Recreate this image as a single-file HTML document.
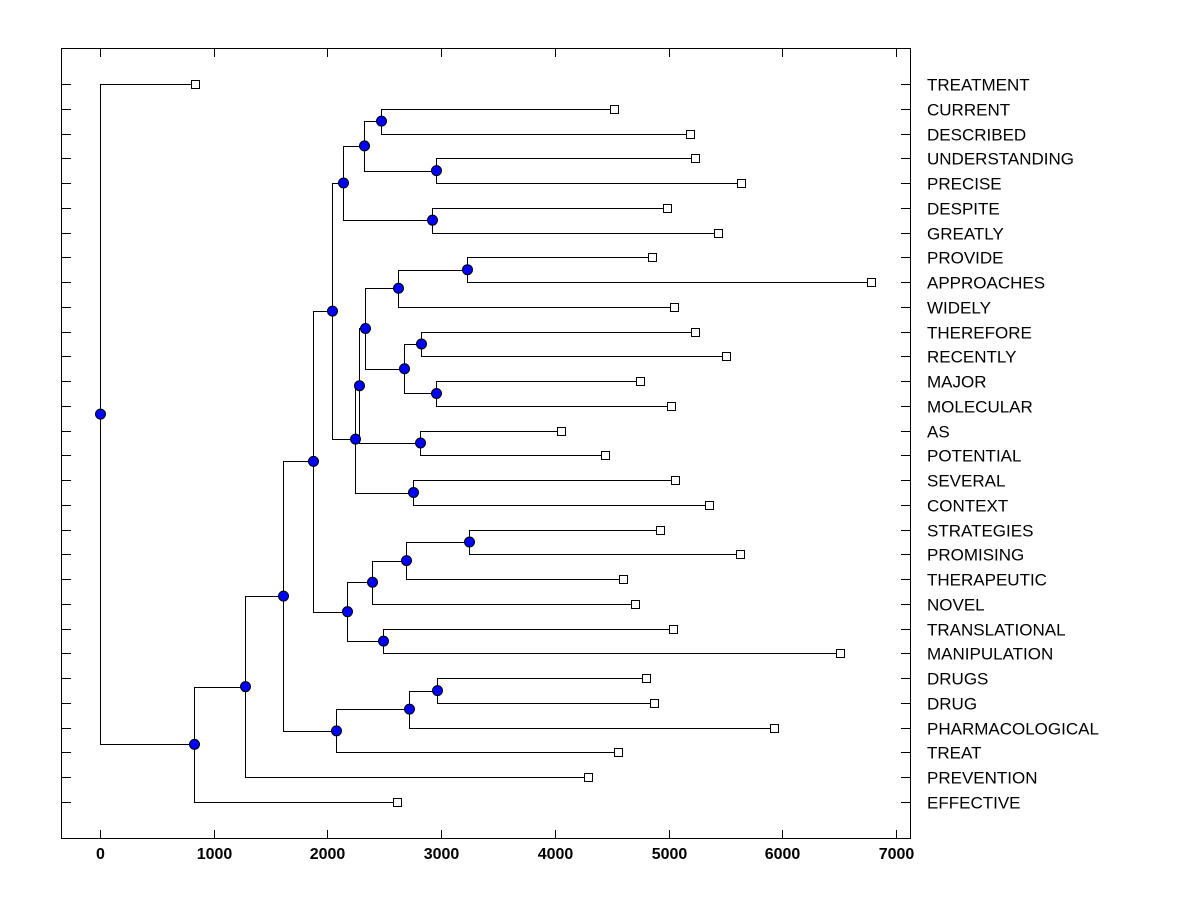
<!DOCTYPE html>
<html><head><meta charset="utf-8"><style>
html,body{margin:0;padding:0;background:#fff;}
svg{display:block;font-family:"Liberation Sans",Arial,sans-serif;}
</style></head><body>
<svg id="chart" width="1200" height="900" viewBox="0 0 1200 900" xmlns="http://www.w3.org/2000/svg">
<rect x="0" y="0" width="1200" height="900" fill="#fff"/>
<rect x="61.5" y="48.5" width="849" height="790" fill="none" stroke="#000" stroke-width="1"/>
<g id="ticks"></g><g id="tree"></g><g id="labels"></g>
</svg>
<script>
const leafNames=["TREATMENT","CURRENT","DESCRIBED","UNDERSTANDING","PRECISE","DESPITE","GREATLY","PROVIDE","APPROACHES","WIDELY","THEREFORE","RECENTLY","MAJOR","MOLECULAR","AS","POTENTIAL","SEVERAL","CONTEXT","STRATEGIES","PROMISING","THERAPEUTIC","NOVEL","TRANSLATIONAL","MANIPULATION","DRUGS","DRUG","PHARMACOLOGICAL","TREAT","PREVENTION","EFFECTIVE"];
const leafValues=[835,4517,5185,5237,5633,4982,5439,4851,6784,5044,5237,5501,4745,5018,4051,4438,5053,5360,4921,5624,4596,4701,5035,6511,4798,4868,5923,4552,4288,2610];
// merges: indices <30 are leaves, >=30 are prior merges (30 + merge index)
const mergeLeft=[1,3,30,5,32,7,35,10,12,37,36,14,40,16,42,34,18,46,47,22,48,45,24,52,53,51,55,56,0];
const mergeRight=[2,4,31,6,33,8,9,11,13,38,39,15,41,17,43,44,19,20,21,23,49,50,25,26,27,54,28,29,57];
const mergeHeights=[2469,2953,2320,2917,2135,3225,2619,2821,2953,2671,2329,2812,2276,2750,2241,2039,3243,2689,2390,2487,2170,1872,2961,2715,2074,1608,1274,826,0];
const xTicks=[0,1000,2000,3000,4000,5000,6000,7000];

const NS="http://www.w3.org/2000/svg";
const X=v=>100+v*0.11371;
const Y=i=>84+i*24.759;
function mk(t,a,p){const e=document.createElementNS(NS,t);for(const k in a)e.setAttribute(k,a[k]);p.appendChild(e);return e;}
const gT=document.getElementById('ticks'),gTr=document.getElementById('tree'),gL=document.getElementById('labels');

xTicks.forEach(v=>{
  const x=Math.round(X(v))+0.5;
  let l=mk('line',{x1:x,y1:838,x2:x,y2:830,stroke:'#000'},gT);
  
  
  l=mk('line',{x1:x,y1:49,x2:x,y2:57,stroke:'#000'},gT);
  
  
  const t=mk('text',{x:x,y:859,'text-anchor':'middle','font-size':'16','font-weight':'bold'},gT);
  t.textContent=v;
  
  
});

const nodeX=[],nodeY=[];
leafNames.forEach((n,i)=>{nodeX[i]=X(leafValues[i]);nodeY[i]=Y(i);
  const y=Math.round(Y(i))+0.5;
  let l=mk('line',{x1:62,y1:y,x2:71,y2:y,stroke:'#000'},gT);
  
  
  l=mk('line',{x1:901,y1:y,x2:910,y2:y,stroke:'#000'},gT);
  
  
  const t=mk('text',{x:927,y:y+6,'font-size':'17'},gL);
  t.textContent=n;
  
  
});
const circles=[];
mergeHeights.forEach((h,k)=>{
  const a=mergeLeft[k],b=mergeRight[k],x=X(h),id=30+k;
  nodeX[id]=x;nodeY[id]=(nodeY[a]+nodeY[b])/2;
  const xr=Math.round(x)+0.5;
  const p=mk('path',{d:`M${nodeX[a]} ${Math.round(nodeY[a])+0.5}H${xr}V${Math.round(nodeY[b])+0.5}H${nodeX[b]}`,fill:'none',stroke:'#000','stroke-width':1},gTr);
  
  
  circles.push([xr,nodeY[id]]);
});
leafNames.forEach((n,i)=>{
  const r=mk('rect',{x:Math.round(nodeX[i])-4+0.5,y:Math.round(nodeY[i])-4+0.5,width:8,height:8,fill:'#fff',stroke:'#000'},gTr);
  
  
});
circles.forEach(c=>{
  const e=mk('circle',{cx:c[0],cy:c[1],r:5,fill:'#0000ff',stroke:'#000','stroke-width':1},gTr);
  
  
});
</script>
</body></html>
